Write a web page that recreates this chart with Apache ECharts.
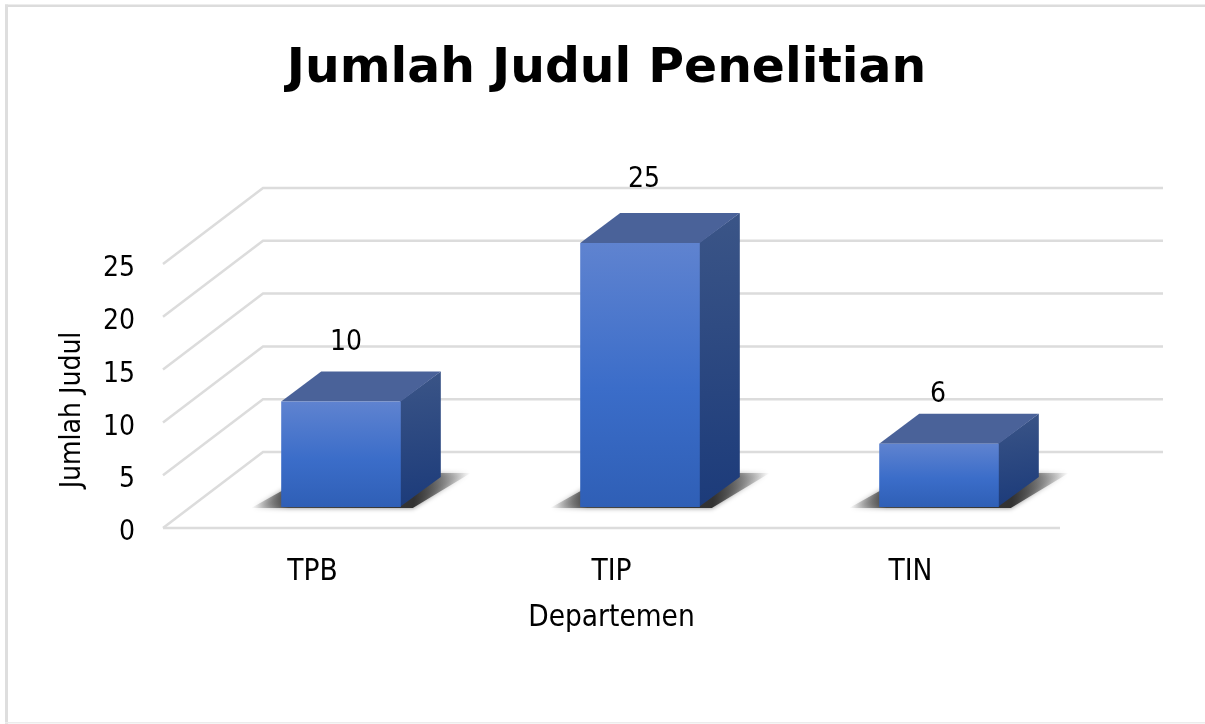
<!DOCTYPE html>
<html>
<head>
<meta charset="utf-8">
<style>html,body{margin:0;padding:0;background:#fff}#c{width:1205px;height:724px}</style>
<script src="https://cdn.jsdelivr.net/npm/echarts@6/dist/echarts.min.js"></script>
</head>
<body>
<div id="c"></div>
<script>
const categories = ['TPB', 'TIP', 'TIN'];
const values = [10, 25, 6];
const yTicks = [0, 5, 10, 15, 20, 25];
const titleText = 'Jumlah Judul Penelitian';
const xName = 'Departemen';
const yName = 'Jumlah Judul';

const FONT = '"DejaVu Sans Condensed", "DejaVu Sans", sans-serif';
const TITLE_FONT = '"DejaVu Sans", sans-serif';
const WALL_DX = 100, WALL_DY = -76;   // front plane to back wall
const BAR_DX = 28.5, BAR_DY = -21;    // front plane to bar front face
const DEPTH_DX = 40, DEPTH_DY = -30;  // bar depth
const GRID_COLOR = '#dcdcdc';
const LABEL_LIFT = [29, 33, 19];      // label distance above the bar's rear top edge
const LABEL_SHIFT = [5, 4, -1];       // label distance right of the bar's centre

const chart = echarts.init(document.getElementById('c'), null, {renderer: 'canvas'});

function renderWall(params, api) {
  const y = api.coord([0, api.value(0)])[1];
  const cs = params.coordSys;
  const x0 = cs.x, x1 = cs.x + cs.width;
  const children = [{
    type: 'polyline',
    shape: {points: [[x0, y], [x0 + WALL_DX, y + WALL_DY], [x1 + WALL_DX + 3, y + WALL_DY]]},
    style: {stroke: GRID_COLOR, lineWidth: 2.5, fill: null}
  }];
  if (api.value(0) === 0) {
    children.push({
      type: 'line',
      shape: {x1: x0, y1: y, x2: x1, y2: y},
      style: {stroke: GRID_COLOR, lineWidth: 2.5}
    });
  }
  return {type: 'group', children};
}

function renderBar(params, api) {
  const cat = api.value(0), val = api.value(1);
  const top = api.coord([cat, val]);
  const base = api.coord([cat, 0]);
  const w = api.size([1, 0])[0] * 0.4;
  const x0 = top[0] - w / 2 + BAR_DX, x1 = x0 + w;
  const yt = top[1] + BAR_DY, yb = base[1] + BAR_DY;
  const dx = DEPTH_DX, dy = DEPTH_DY;
  return {
    type: 'group',
    children: [
      {
        type: 'polygon',
        shape: {points: [[x0 - 30, yb + 1], [x1 + 12, yb + 1], [x1 + 70, yb - 34], [x1 - 4, yb - 34], [x0 + 4, yb - 18]]},
        style: {
          fill: new echarts.graphic.LinearGradient(0, 0, 1, 0, [
            {offset: 0, color: 'rgba(70,70,70,0)'},
            {offset: 0.17, color: 'rgba(60,60,60,0.9)'},
            {offset: 0.74, color: 'rgba(50,50,50,1)'},
            {offset: 1, color: 'rgba(70,70,70,0)'}
          ]),
          shadowBlur: 5,
          shadowColor: 'rgba(70,70,70,0.7)'
        }
      },
      {
        type: 'polygon',
        shape: {points: [[x1 - 1, yt], [x1 + dx, yt + dy], [x1 + dx, yb + dy], [x1 - 1, yb]]},
        style: {fill: new echarts.graphic.LinearGradient(0, 0, 0.35, 1, [
          {offset: 0, color: '#3b5587'}, {offset: 1, color: '#1c3b7a'}
        ])}
      },
      {
        type: 'polygon',
        shape: {points: [[x0, yt], [x0 + dx, yt + dy], [x1 + dx, yt + dy], [x1, yt]]},
        style: {fill: '#4a6299'}
      },
      {
        type: 'rect',
        shape: {x: x0, y: yt, width: w, height: yb - yt},
        style: {fill: new echarts.graphic.LinearGradient(0, 0, 0, 1, [
          {offset: 0, color: '#5f83d0'}, {offset: 0.55, color: '#3b6dc9'}, {offset: 1, color: '#2f5fb6'}
        ])}
      },
      {
        type: 'text',
        style: {
          text: String(val), x: x0 + w / 2 + LABEL_SHIFT[cat], y: yt + dy - LABEL_LIFT[cat],
          align: 'center', verticalAlign: 'middle',
          font: '28px ' + FONT, fill: '#000'
        }
      }
    ]
  };
}

chart.setOption({
  animation: false,
  backgroundColor: '#fff',
  title: {
    text: titleText, left: 601.5, top: 64, textAlign: 'center', textVerticalAlign: 'middle',
    textStyle: {fontFamily: TITLE_FONT, fontSize: 48.8, fontWeight: 'bold', color: '#000'}
  },
  grid: {left: 163, top: 264, width: 897, height: 264},
  xAxis: {
    type: 'category', data: categories,
    name: xName, nameLocation: 'middle', nameGap: 75,
    nameTextStyle: {fontFamily: FONT, fontSize: 29.5, color: '#000'},
    axisLine: {show: false}, axisTick: {show: false},
    axisLabel: {fontFamily: FONT, fontSize: 29.5, color: '#000', margin: 29}
  },
  yAxis: {
    type: 'value', min: 0, max: 25, interval: 5,
    axisLine: {show: false}, axisTick: {show: false}, splitLine: {show: false},
    axisLabel: {fontFamily: FONT, fontSize: 28, color: '#000', margin: 28, verticalAlign: 'top', lineHeight: 10}
  },
  graphic: [
    {type: 'rect', silent: true, shape: {x: 5, y: 4.5, width: 1300, height: 2.5}, style: {fill: '#dcdcdc'}},
    {type: 'rect', silent: true, shape: {x: 5, y: 4.5, width: 3, height: 800}, style: {fill: '#dedede'}},
    {type: 'rect', silent: true, shape: {x: 5, y: 722, width: 1300, height: 1.5}, style: {fill: '#ececec'}},
    {type: 'text', silent: true, x: 73, y: 410, rotation: Math.PI / 2,
      style: {text: yName, align: 'center', verticalAlign: 'middle', font: '28px ' + FONT, fill: '#000'}}
  ],
  series: [
    {type: 'custom', renderItem: renderWall, data: yTicks.map(v => [v]), encode: {y: 0}, silent: true, z: 1},
    {type: 'custom', renderItem: renderBar, data: values.map((v, i) => [i, v]), encode: {x: 0, y: 1}, silent: true, z: 2}
  ]
});
</script>
</body>
</html>
